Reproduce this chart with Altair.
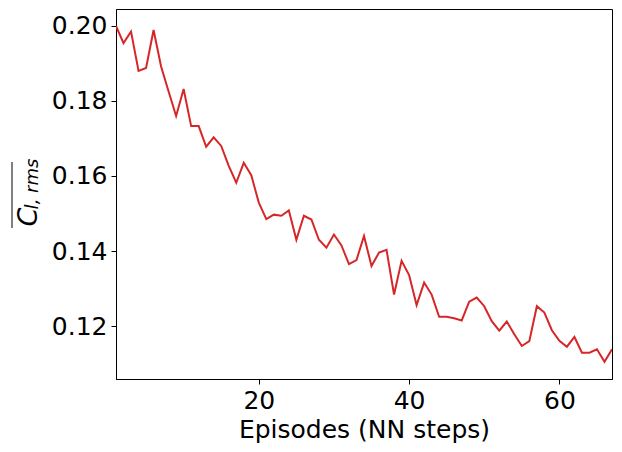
import altair as alt
import pandas as pd

episodes = list(range(1, 68))
cl_rms = [
    0.2000, 0.1954, 0.1985, 0.1880, 0.1888, 0.1989, 0.1892, 0.1825, 0.1760, 0.1832,
    0.1733, 0.1733, 0.1678, 0.1703, 0.1680, 0.1627, 0.1582, 0.1635, 0.1602, 0.1529,
    0.1485, 0.1497, 0.1494, 0.1508, 0.1430, 0.1494, 0.1484, 0.1430, 0.1409, 0.1444,
    0.1415, 0.1365, 0.1376, 0.1440, 0.1360, 0.1396, 0.1403, 0.1284, 0.1374, 0.1336,
    0.1256, 0.1316, 0.1284, 0.1225, 0.1225, 0.1221, 0.1215, 0.1265, 0.1276, 0.1253,
    0.1213, 0.1188, 0.1212, 0.1178, 0.1147, 0.1160, 0.1253, 0.1236, 0.1189, 0.1161,
    0.1145, 0.1171, 0.1129, 0.1129, 0.1138, 0.1105, 0.1138,
]
x_ticks = [20, 40, 60]
y_ticks = [0.12, 0.14, 0.16, 0.18, 0.20]

df = pd.DataFrame({"episode": episodes, "cl": cl_rms})

FONT = "DejaVu Sans"
FS = 25

line = alt.Chart(df).mark_line(color="#d62728", strokeWidth=2, clip=True).encode(
    x=alt.X("episode:Q",
            scale=alt.Scale(domain=[1, 67], nice=False, zero=False),
            axis=alt.Axis(values=x_ticks, title="Episodes (NN steps)", titlePadding=4)),
    y=alt.Y("cl:Q",
            scale=alt.Scale(domain=[0.1059, 0.2045], nice=False, zero=False),
            axis=alt.Axis(values=y_ticks, format=".2f", title=None)),
)

lbl = pd.DataFrame({"t": ["C"]})
c_text = alt.Chart(lbl).mark_text(
    text="C", font=FONT, fontSize=FS + 2, fontStyle="italic", angle=270,
    align="center", baseline="middle", color="black"
).encode(x=alt.value(-87), y=alt.value(208))
sub_text = alt.Chart(lbl).mark_text(
    text="l, rms", font=FONT, fontSize=18, fontStyle="italic", angle=270,
    align="center", baseline="middle", color="black"
).encode(x=alt.value(-83), y=alt.value(175))
overline = alt.Chart(lbl).mark_rule(color="black", strokeWidth=1).encode(
    x=alt.value(-104), y=alt.value(153), y2=alt.value(219)
)

chart = alt.layer(line, c_text, sub_text, overline).properties(
    width=496, height=370,
    autosize=alt.AutoSizeParams(type="none"),
    padding={"left": 108, "top": 1, "right": 2, "bottom": 64},
).configure_view(stroke="black", strokeWidth=1).configure_axis(
    grid=False, domainColor="black", domainWidth=1, tickColor="black",
    tickSize=5, tickWidth=1, labelFont=FONT, labelFontSize=FS, labelColor="black",
    titleFont=FONT, titleFontSize=FS, titleColor="black", titleFontWeight="normal",
    labelPadding=4,
)

chart.save("out.html", embed_options={"renderer": "svg", "actions": False})
